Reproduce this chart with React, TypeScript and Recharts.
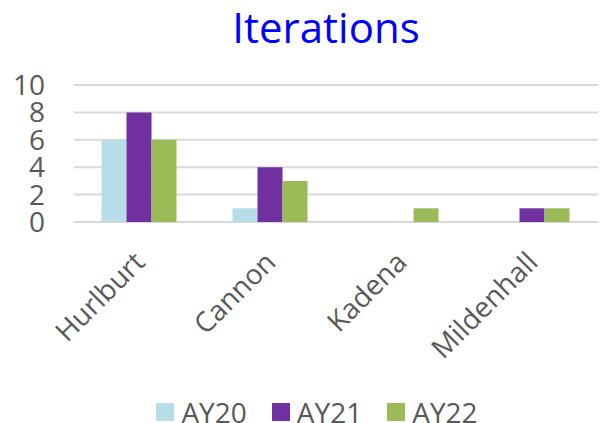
import React from 'react'
import { BarChart, Bar, XAxis, YAxis, CartesianGrid, Legend } from 'recharts'

const bases = ['Hurlburt', 'Cannon', 'Kadena', 'Mildenhall']
const ay20 = [6, 1, 0, 0]
const ay21 = [8, 4, 0, 1]
const ay22 = [6, 3, 1, 1]
const yTicks = [0, 2, 4, 6, 8, 10]

const series = [
  { key: 'AY20', color: '#B7DEE8' },
  { key: 'AY21', color: '#7030A0' },
  { key: 'AY22', color: '#9BBB59' },
]

const dados = bases.map((b, i) => ({ base: b, AY20: ay20[i], AY21: ay21[i], AY22: ay22[i] }))

const FONTE = '"Open Sans", sans-serif'
const CINZA = '#595959'

const TickRotacionado = ({ x, y, payload }: any) => (
  <text
    transform={`translate(${x + 7},${y + 42}) rotate(-45)`}
    textAnchor="end"
    fontFamily={FONTE}
    fontSize={28}
    fill={CINZA}
  >
    {payload.value}
  </text>
)

const LegendaCustom = ({ payload }: any) => (
  <div style={{ display: 'flex', justifyContent: 'center', paddingLeft: 36, paddingTop: 29, gap: 25 }}>
    {(payload || []).map((p: any) => (
      <div key={p.value} style={{ display: 'flex', alignItems: 'center', gap: 7, height: 22 }}>
        <span style={{ width: 18, height: 18, background: p.color, display: 'inline-block' }} />
        <span style={{ fontFamily: FONTE, fontSize: 28, color: CINZA, lineHeight: '22px' }}>{p.value}</span>
      </div>
    ))}
  </div>
)

export default function App() {
  return (
    <div style={{ position: 'absolute', left: 0, top: 0, width: 602, height: 423, background: '#fff' }}>
      <div
        style={{
          position: 'absolute', top: 2, left: 176, width: 300, textAlign: 'center',
          fontFamily: FONTE, fontSize: 42, lineHeight: '50px', color: '#0000FF',
        }}
      >
        Iterations
      </div>
      <BarChart
        width={602}
        height={423}
        data={dados}
        margin={{ top: 85, right: 4, left: 0, bottom: 0 }}
        barCategoryGap="21%"
        barGap={0}
      >
        <CartesianGrid vertical={false} stroke="#D9D9D9" strokeWidth={2} />
        <XAxis
          dataKey="base"
          axisLine={false}
          tickLine={false}
          tickSize={0}
          tickMargin={0}
          height={150}
          interval={0}
          tick={<TickRotacionado />}
        />
        <YAxis
          domain={[0, 10]}
          ticks={yTicks}
          interval={0}
          width={74}
          axisLine={false}
          tickLine={false}
          tickSize={0}
          tickMargin={29}
          tick={{ fontFamily: FONTE, fontSize: 28, fill: CINZA }}
        />
        <Legend verticalAlign="bottom" height={51} content={<LegendaCustom />} />
        {series.map(s => (
          <Bar key={s.key} dataKey={s.key} name={s.key} fill={s.color} isAnimationActive={false} />
        ))}
      </BarChart>
    </div>
  )
}
